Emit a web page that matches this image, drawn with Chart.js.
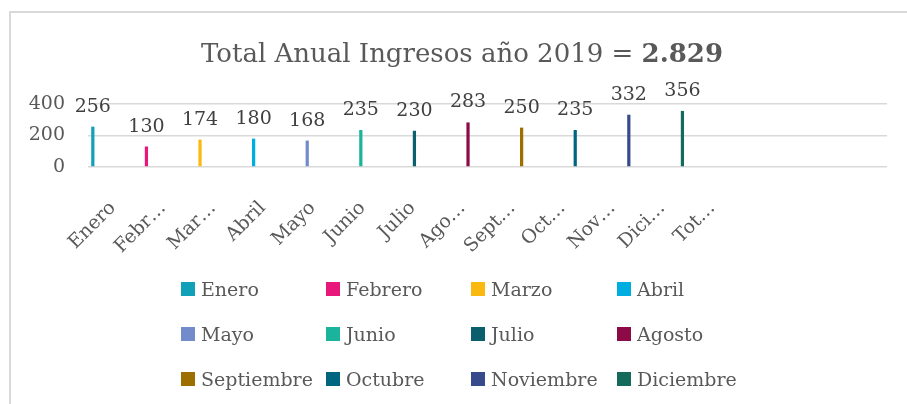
<!DOCTYPE html>
<html><head><meta charset="utf-8">
<script src="https://cdn.jsdelivr.net/npm/chart.js@4.4.1/dist/chart.umd.min.js"></script>
<style>
html,body{margin:0;padding:0;background:#fff;overflow:hidden;}
#c{display:block;}
</style></head><body>
<canvas id="c" width="907" height="404"></canvas>
<script>
const categories = ['Enero','Febrero','Marzo','Abril','Mayo','Junio','Julio','Agosto','Septiembre','Octubre','Noviembre','Diciembre','Total','','',''];
const tickLabels = ['Enero','Febr…','Mar…','Abril','Mayo','Junio','Julio','Ago…','Sept…','Oct…','Nov…','Dici…','Tot…','','',''];
const seriesNames = ['Enero','Febrero','Marzo','Abril','Mayo','Junio','Julio','Agosto','Septiembre','Octubre','Noviembre','Diciembre'];
const seriesValues = [256,130,174,180,168,235,230,283,250,235,332,356];
const seriesColors = ['#10a0b8','#e8177a','#fbb80f','#00ade0','#748bcb','#1ab39b','#0b5e6b','#8c0b46','#9c6f00','#00667f','#374a8c','#146b5a'];
const yTicks = [0,200,400];
const titleText = 'Total Anual Ingresos año 2019 = ';
const titleTotal = '2.829';

const FONT = '"DejaVu Serif", serif';
const GREY = '#595959';

const datasets = seriesNames.map((name, k) => ({
  label: name,
  data: categories.map((_, i) => i === k ? seriesValues[k] : null),
  backgroundColor: seriesColors[k],
  borderWidth: 0,
  categoryPercentage: 0.88,
  barPercentage: 0.88
}));

const framePlugin = {
  id: 'framePlugin',
  beforeDraw(chart) {
    const ctx = chart.ctx;
    ctx.save();
    ctx.fillStyle = '#ffffff';
    ctx.fillRect(0, 0, chart.width, chart.height);
    ctx.strokeStyle = '#d9d9d9';
    ctx.lineWidth = 2;
    ctx.beginPath();
    ctx.moveTo(10, chart.height + 5);
    ctx.lineTo(10, 12);
    ctx.lineTo(chart.width + 5, 12);
    ctx.stroke();
    ctx.restore();
  }
};

const titlePlugin = {
  id: 'titlePlugin',
  afterDraw(chart) {
    const ctx = chart.ctx;
    ctx.save();
    ctx.textBaseline = 'alphabetic';
    ctx.fillStyle = GREY;
    const f1 = '26px ' + FONT, f2 = 'bold 26px ' + FONT;
    ctx.font = f1; const w1 = ctx.measureText(titleText).width;
    ctx.font = f2; const w2 = ctx.measureText(titleTotal).width;
    const x0 = 462 - (w1 + w2) / 2, y = 62;
    ctx.font = f1; ctx.textAlign = 'left'; ctx.fillText(titleText, x0, y);
    ctx.font = f2; ctx.fillText(titleTotal, x0 + w1, y);
    ctx.restore();
  }
};

const valueLabels = {
  id: 'valueLabels',
  afterDatasetsDraw(chart) {
    const ctx = chart.ctx;
    ctx.save();
    ctx.font = '19px ' + FONT;
    ctx.fillStyle = '#404040';
    ctx.textAlign = 'center';
    ctx.textBaseline = 'alphabetic';
    chart.data.datasets.forEach((ds, di) => {
      const meta = chart.getDatasetMeta(di);
      meta.data.forEach((el, i) => {
        const v = ds.data[i];
        if (v === null || v === undefined) return;
        ctx.fillText(String(v), el.x, el.y - 15);
      });
    });
    ctx.restore();
  }
};

const legendPlugin = {
  id: 'legendPlugin',
  afterDraw(chart) {
    const ctx = chart.ctx;
    const colX = [181, 326, 471, 617];
    const rowY = [296, 341, 386];
    ctx.save();
    ctx.font = '19px ' + FONT;
    ctx.textAlign = 'left';
    ctx.textBaseline = 'alphabetic';
    seriesNames.forEach((name, k) => {
      const x = colX[k % 4], y = rowY[Math.floor(k / 4)];
      ctx.fillStyle = seriesColors[k];
      ctx.fillRect(x, y - 14, 14, 14);
      ctx.fillStyle = GREY;
      ctx.fillText(name, x + 20, y);
    });
    ctx.restore();
  }
};

new Chart(document.getElementById('c'), {
  type: 'bar',
  data: { labels: categories, datasets },
  plugins: [framePlugin, titlePlugin, valueLabels, legendPlugin],
  options: {
    responsive: false,
    animation: false,
    devicePixelRatio: 1,
    layout: { padding: { left: 0, right: 20, top: 104, bottom: 0 } },
    plugins: { legend: { display: false }, title: { display: false }, tooltip: { enabled: false } },
    scales: {
      x: {
        grid: { display: false },
        border: { display: false },
        afterFit(scale) { scale.height = 237; },
        ticks: {
          autoSkip: false,
          minRotation: 45,
          maxRotation: 45,
          padding: 22,
          color: GREY,
          font: { family: FONT, size: 19 },
          callback: (v, i) => tickLabels[i]
        }
      },
      y: {
        min: 0, max: 400,
        afterFit(scale) { scale.width = 88; },
        afterBuildTicks(scale) { scale.ticks = yTicks.map(v => ({ value: v })); },
        border: { display: false },
        grid: { color: '#d9d9d9', lineWidth: 1.5, drawTicks: false },
        ticks: {
          padding: 23,
          color: GREY,
          font: { family: FONT, size: 19 }
        }
      }
    }
  }
});
</script>
</body></html>
